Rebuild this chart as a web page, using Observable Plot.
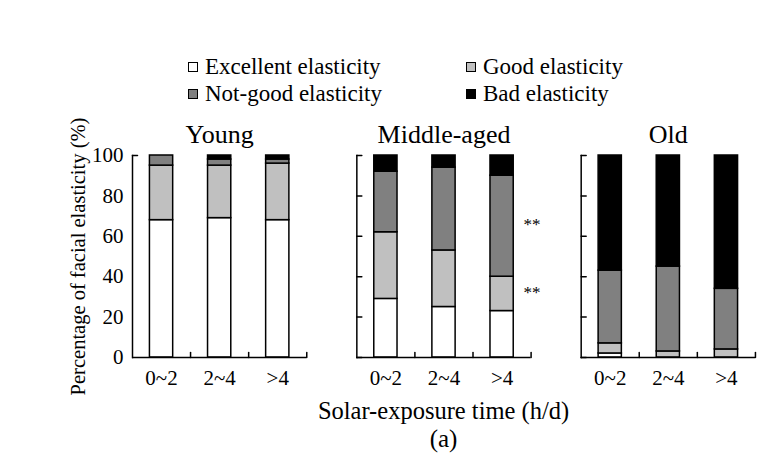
<!DOCTYPE html>
<html><head><meta charset="utf-8">
<script src="https://cdn.jsdelivr.net/npm/d3@7"></script>
<script src="https://cdn.jsdelivr.net/npm/@observablehq/plot@0.6"></script>
<style>
body{margin:0;background:#fff;font-family:"Liberation Serif","Times New Roman",serif;color:#000;}
#wrap{width:779px;position:relative;}
#legend{position:relative;height:110px;font-size:23px;}
.item{position:absolute;display:flex;align-items:center;white-space:nowrap;line-height:24px;transform:translateY(-50%);}
.sw{width:8px;height:8px;border:1px solid #000;margin-right:7px;}
.foot{margin-left:132px;width:623px;text-align:center;}
#chart svg{display:block;overflow:visible;}
</style></head><body>
<div id="wrap">
<div id="legend"></div>
<div id="chart"></div>
<div class="foot" id="xl" style="font-size:24.5px;line-height:24px;margin-top:-1px">Solar-exposure time (h/d)</div>
<div class="foot" id="cap" style="font-size:25px;line-height:30px;margin-top:1px">(a)</div>
</div>
<script>
const groups = ["Young", "Middle-aged", "Old"];
const times = ["0~2", "2~4", ">4"];
const levels = ["Excellent elasticity", "Good elasticity", "Not-good elasticity", "Bad elasticity"];
const colors = ["#ffffff", "#c0c0c0", "#808080", "#000000"];
// segment percentages, ordered Young(0~2,2~4,>4), Middle-aged(...), Old(...)
const excellent = [68, 69, 68, 29, 25, 23, 2, 0, 0];
const good      = [27, 26, 28, 33, 28, 17, 5, 3, 4];
const notGood   = [5, 3, 2, 30, 41, 50, 36, 42, 30];
const bad       = [0, 2, 2, 8, 6, 10, 57, 55, 66];
const yTicks = [0, 20, 40, 60, 80, 100];
const starGroups = ["Middle-aged", "Middle-aged"];
const starTimes = [">4", ">4"];
const starValues = [66, 32];
const starLabels = ["**", "**"];
const yLabel = "Percentage of facial elasticity (%)";

// legend (HTML)
const legendPos = [[188, 67], [466, 67], [188, 94], [466, 94]];
const legendOrder = [0, 1, 2, 3];
const legendEl = document.getElementById("legend");
legendOrder.forEach((li, k) => {
  const d = document.createElement("div");
  d.className = "item";
  d.style.left = legendPos[k][0] + "px";
  d.style.top = legendPos[k][1] + "px";
  d.innerHTML = `<span class="sw" style="background:${colors[li]}"></span><span>${levels[li]}</span>`;
  legendEl.appendChild(d);
});

const series = [excellent, good, notGood, bad];
const rows = [];
groups.forEach((g, gi) => times.forEach((t, ti) => levels.forEach((l, li) =>
  rows.push({group: g, time: t, level: l, value: series[li][gi * 3 + ti]}))));

const innerTicks = [];
groups.forEach(g => yTicks.forEach(v => { if (g !== "Young" || v === 100) innerTicks.push({group: g, v}); }));
const xTickRows = [];
groups.forEach(g => times.forEach(t => xTickRows.push({group: g, time: t})));
const stars = starGroups.map((g, i) => ({group: g, time: starTimes[i], v: starValues[i], t: starLabels[i]}));

const tickShape = {draw(ctx, l) { ctx.moveTo(0, 0); ctx.lineTo(0, -l); }};

const chart = Plot.plot({
  width: 779, height: 290,
  marginTop: 45, marginBottom: 43, marginLeft: 132, marginRight: 24,
  style: {fontFamily: "Liberation Serif, Times New Roman, serif", background: "white", color: "black", overflow: "visible"},
  fx: {domain: groups, paddingInner: 0.223, paddingOuter: 0, round: false, label: null},
  x: {domain: times, paddingInner: 0.6, paddingOuter: 0.3, round: false, label: null},
  y: {domain: [0, 100], label: null},
  color: {domain: levels, range: colors},
  marks: [
    Plot.barY(rows, {fx: "group", x: "time", y: "value", fill: "level", stroke: "black", strokeWidth: 1.5}),
    Plot.ruleY([0], {stroke: "black", strokeWidth: 1.5}),
    Plot.frame({anchor: "left", stroke: "black", strokeWidth: 1.5}),
    Plot.vector(innerTicks, {fx: "group", y: "v", frameAnchor: "left", rotate: 90, length: 5, anchor: "start", shape: tickShape, stroke: "black", strokeWidth: 1.5}),
    Plot.vector(xTickRows, {fx: "group", x: "time", frameAnchor: "bottom", length: 5, anchor: "start", shape: tickShape, stroke: "black", strokeWidth: 1.5, dx: 29}),
    Plot.axisY(yTicks, {anchor: "left", tickSize: 0, tickPadding: 9, fontSize: 21, label: null}),
    Plot.axisX({anchor: "bottom", tickSize: 0, tickPadding: 13, fontSize: 21, label: null}),
    Plot.axisFx({anchor: "top", tickSize: 0, tickPadding: 13, fontSize: 26, label: null}),
    Plot.text([yLabel], {text: d => d, facet: "super", frameAnchor: "left", textAnchor: "middle", rotate: -90, dx: -54, fontSize: 20.5}),
    Plot.text(stars, {fx: "group", x: "time", y: "v", text: "t", dx: 30, fontSize: 17})
  ]
});
document.getElementById("chart").appendChild(chart);
</script>
</body></html>
